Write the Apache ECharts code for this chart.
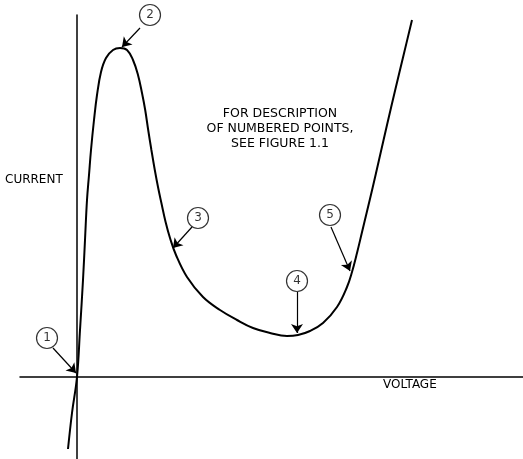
<!DOCTYPE html>
<html>
<head>
<meta charset="utf-8">
<script src="https://cdn.jsdelivr.net/npm/echarts@6/dist/echarts.min.js"></script>
<style>
  html, body { margin: 0; padding: 0; background: #fff; }
  #chart { width: 523px; height: 459px; }
</style>
</head>
<body>
<div id="chart"></div>
<script>
// I-V curve, arbitrary units (voltage, current)
const voltage = [-0.9, -0.5, 0, 0.3, 0.6, 0.8, 1.0, 1.2, 1.4, 1.7, 2.0, 2.4, 2.9, 3.6, 4.3, 5.0, 5.6, 6.1, 6.5, 6.82, 7.12, 7.44, 7.78, 8.12, 8.44, 8.86, 9.3, 9.9, 11.0, 12.6, 14.3, 16.0, 17.6, 19.3, 21.0, 22.1, 23.3, 24.6, 26.0, 27.0, 27.5, 28.0, 28.48, 28.96, 29.58, 30.2, 31.0, 31.82, 32.66, 33.5]
const current = [-7.2, -3.6, 0, 4.7, 9.7, 13.7, 17.7, 20.2, 22.7, 25.7, 28.2, 30.5, 31.9, 32.7, 32.9, 32.7, 31.7, 30.2, 28.4, 26.7, 24.7, 22.7, 20.7, 18.9, 17.4, 15.5, 13.9, 12.2, 10.0, 8.0, 6.7, 5.7, 4.9, 4.4, 4.1, 4.2, 4.6, 5.4, 7.0, 9.0, 10.5, 12.4, 14.4, 16.4, 19.0, 21.7, 25.2, 28.7, 32.2, 35.7]

// numbered callouts: circle position and arrow from/to
const pointLabels = ['1', '2', '3', '4', '5']
const labelX = [-3.0, 7.3, 12.1, 22.0, 25.3]
const labelY = [3.9, 36.2, 15.9, 9.6, 16.2]
const arrowFrom = [[-2.4, 2.9], [6.3, 34.9], [11.5, 15.0], [22.0, 8.5], [25.4, 15.0]]
const arrowTo = [[-0.1, 0.4], [4.5, 33.0], [9.6, 12.9], [22.0, 4.4], [27.3, 10.6]]

const noteLines = ['FOR DESCRIPTION', 'OF NUMBERED POINTS,', 'SEE FIGURE 1.1']

const chart = echarts.init(document.getElementById('chart'))

const font = 'DejaVu Sans'

const option = {
  animation: false,
  backgroundColor: '#fff',
  grid: { left: 20, right: 0, top: 15, bottom: 0 },
  xAxis: {
    type: 'value',
    min: -5.7,
    max: 44.6,
    axisLine: { onZero: true, lineStyle: { color: '#000', width: 1.5 } },
    axisTick: { show: false },
    axisLabel: { show: false },
    splitLine: { show: false }
  },
  yAxis: {
    type: 'value',
    min: -8.2,
    max: 36.2,
    axisLine: { onZero: true, lineStyle: { color: '#000', width: 1.5 } },
    axisTick: { show: false },
    axisLabel: { show: false },
    splitLine: { show: false }
  },
  graphic: [
    {
      type: 'text', left: 5, top: 174,
      style: { text: 'CURRENT', font: '12px ' + font, fill: '#000' }
    },
    {
      type: 'text', left: 383, top: 379,
      style: { text: 'VOLTAGE', font: '12px ' + font, fill: '#000' }
    },
    {
      type: 'text', x: 280, y: 106,
      style: {
        text: noteLines.join('\n'), font: '12.5px ' + font, fill: '#000',
        align: 'center', lineHeight: 15
      }
    }
  ],
  series: [
    {
      type: 'line',
      data: voltage.map((v, i) => [v, current[i]]),
      smooth: 0.4,
      symbol: 'none',
      clip: false,
      lineStyle: { color: '#000', width: 2 },
      markLine: {
        silent: true,
        symbol: ['none', 'arrow'],
        symbolSize: 9,
        label: { show: false },
        lineStyle: { color: '#000', width: 1.2, type: 'solid' },
        data: arrowFrom.map((f, i) => [{ coord: f }, { coord: arrowTo[i] }])
      }
    },
    {
      type: 'scatter',
      clip: false,
      data: pointLabels.map((t, i) => [labelX[i], labelY[i], t]),
      symbol: 'circle',
      symbolSize: 21,
      itemStyle: { color: '#fff', borderColor: '#000', borderWidth: 1.2 },
      label: {
        show: true,
        position: 'inside',
        formatter: p => p.value[2],
        color: '#000',
        fontFamily: font,
        fontSize: 12
      }
    }
  ]
}

chart.setOption(option)
</script>
</body>
</html>
